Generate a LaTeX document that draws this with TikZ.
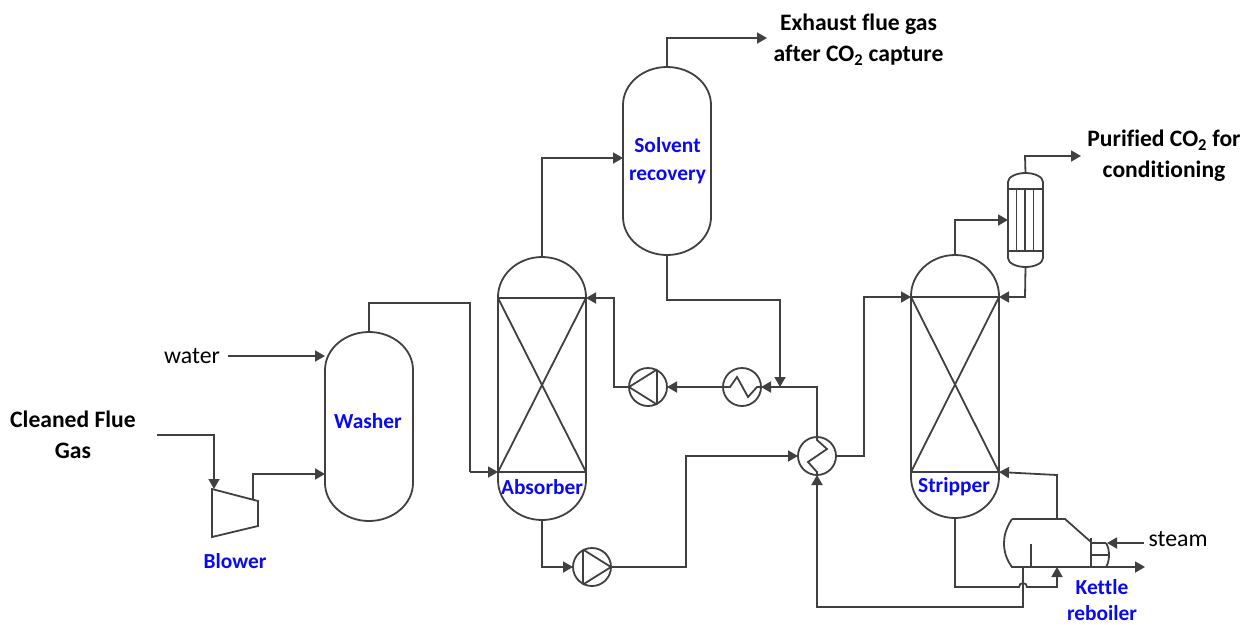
\documentclass[tikz,border=0pt]{standalone}
\usepackage{fontspec}
\setmainfont[Ligatures=CommonOff]{Carlito}
\usetikzlibrary{arrows.meta,calc}
\definecolor{ln}{HTML}{404040}
\definecolor{lbl}{HTML}{0A0AF0}
\tikzset{
  pipe/.style={draw=ln,line width=1.8pt,line join=miter},
  flow/.style={pipe,-{Triangle[length=10pt,width=11pt]}},
  equip/.style={draw=ln,line width=1.8pt},
  vesselbox/.style={inner sep=0pt,outer sep=0pt},
  roundunit/.style={equip,circle,minimum size=38pt,inner sep=0pt,outer sep=0pt},
  blue label/.style={text=lbl,font=\fontsize{21.4}{28}\selectfont\bfseries,align=center,inner sep=0pt},
  black label/.style={text=black,font=\fontsize{23.6}{31}\selectfont\bfseries,align=center,inner sep=0pt},
  plain label/.style={text=black,font=\fontsize{23.8}{26}\selectfont,inner sep=0pt}
}
\newcommand{\vesselshape}[5]{% name, cx, top, bottom, head
  \node[vesselbox,minimum width=88pt,minimum height={#4-#3}] (#1) at (#2,{(#3+#4)/2}) {};
  \draw[equip] (#1.north) .. controls +(24.3,0) and ($(#1.north east)+(0,{#5*0.45})$) .. ($(#1.north east)+(0,#5)$)
     -- ($(#1.south east)+(0,-#5)$) .. controls ($(#1.south east)+(0,{-#5*0.45})$) and ($(#1.south)+(24.3,0)$) .. (#1.south)
     .. controls ($(#1.south)+(-24.3,0)$) and ($(#1.south west)+(0,{-#5*0.45})$) .. ($(#1.south west)+(0,-#5)$)
     -- ($(#1.north west)+(0,#5)$) .. controls ($(#1.north west)+(0,{#5*0.45})$) and ($(#1.north)+(-24.3,0)$) .. (#1.north);
}
\begin{document}
\begin{tikzpicture}[x=1pt,y=-1pt]
\useasboundingbox (0,0) rectangle (1252,624);

% vessels
\vesselshape{washer}{369}{332}{521}{38}
\vesselshape{absorber}{542}{257}{520}{40}
\vesselshape{solvent}{667}{67}{255}{38}
\vesselshape{stripper}{955}{255}{518}{41}

% packed beds
\coordinate (abTL) at (498,298); \coordinate (abTR) at (586,298);
\coordinate (abBL) at (498,472); \coordinate (abBR) at (586,472);
\coordinate (stTL) at (911,297); \coordinate (stTR) at (999,297);
\coordinate (stBL) at (911,472); \coordinate (stBR) at (999,472);
\draw[equip] (abTL) -- (abTR) (abBL) -- (abBR) (abTL) -- (abBR) (abTR) -- (abBL);
\draw[equip] (stTL) -- (stTR) (stBL) -- (stBR) (stTL) -- (stBR) (stTR) -- (stBL);

% rotating units and exchangers
\node[roundunit] (pumpA) at (592,567) {};
\node[roundunit] (pumpB) at (648,387) {};
\node[roundunit] (coolerH) at (742,387) {};
\node[roundunit] (crossH) at (817,456) {};
\draw[equip] (583,549.5) -- (583,584.5) (583,549.5) -- (pumpA.east) -- (583,584.5);
\draw[equip] (657,369.5) -- (657,404.5) (657,369.5) -- (pumpB.west) -- (657,404.5);
\draw[equip] (coolerH.west) -- (730,387) -- (737,377) -- (748,397) -- (757,387) -- (coolerH.east);
\draw[equip] (crossH.north) -- (817,440) -- (827,449) -- (808,462) -- (817,472) -- (crossH.south);

% blower
\node[vesselbox,minimum width=46pt,minimum height=48pt] (blower) at (235,513) {};
\draw[equip] (blower.north west) -- (258,501) -- (258,526) -- (blower.south west) -- cycle;

% condenser
\node[vesselbox,minimum width=35pt,minimum height=94pt] (cond) at (1025.5,220) {};
\draw[equip] (cond.north) .. controls (1016,173) and (1008,177) .. (1008,182) -- (1008,258)
  .. controls (1008,263) and (1016,267) .. (cond.south)
  .. controls (1035,267) and (1043,263) .. (1043,258) -- (1043,182)
  .. controls (1043,177) and (1035,173) .. (cond.north);
\draw[equip] (1008,189) -- (1043,189) (1008,251) -- (1043,251);
\draw[equip] (1016.5,189) -- (1016.5,251) (1025,189) -- (1025,251) (1033.5,189) -- (1033.5,251);

% kettle reboiler
\node[vesselbox,minimum width=87pt,minimum height=48pt] (kettle) at (1048,543) {};
\draw[equip] (1012,519) .. controls (1006,528) and (1004,536) .. (1004,543)
  .. controls (1004,551) and (1006,559) .. (1012,567) -- (1107,567);
\draw[equip] (1012,519) -- (1065,519) -- (1091,542);
\draw[equip] (1091,538) -- (1091,567) (1091,543) -- (1106,543) (1091,555) -- (1108,555);
\draw[equip] (1106,543) .. controls (1110,549) and (1110,561) .. (1106,567);
\draw[equip] (1031,544) -- (1031,567);

% connectors
\coordinate (abOut) at (470,472);
\draw[flow] (absorber.north) -- (542,158) -- (623,158);
\draw[pipe] (washer.north) -- (369,303) -- (470,303) -- (abOut);
\draw[flow] (abOut) -- (abBL);
\draw[flow] (solvent.north) -- (667,38) -- (767,38);
\coordinate (jn) at (780,387);
\draw[flow] (solvent.south) -- (667,300) -- (780,300) -- (jn);
\draw[flow] (crossH.north) -- (817,387) -- (coolerH.east);
\draw[flow] (coolerH.west) -- (pumpB.east);
\draw[flow] (pumpB.west) -- (614,387) -- (614,298) -- (abTR);
\draw[flow] (absorber.south) -- (542,567) -- (pumpA.west);
\draw[flow] (pumpA.east) -- (686,567) -- (686,456) -- (crossH.west);
\draw[flow] (crossH.east) -- (864,456) -- (864,297) -- (stTL);
\draw[flow] (stripper.north) -- (955,220) -- (cond.west);
\coordinate (purified) at (1081,156);
\draw[flow] (cond.north) -- (1025,156) -- (purified);
\draw[flow] (cond.south) -- (1025,297) -- (stTR);
\draw[flow] (1057,519) -- (1057,475) -- (stBR);
\draw[flow] (stripper.south) -- (955,587) -- (1019,587) arc[start angle=180,end angle=0,radius=4pt] -- (1057,587) -- (1057,567);
\draw[flow] (1023,567) -- (1023,607) -- (817,607) -- (crossH.south);
\coordinate (flueIn) at (157,435);
\draw[flow] (flueIn) -- (214,435) -- (214,489);
\draw[flow] (253,500) -- (253,474) -- (325,474);
\coordinate (waterIn) at (228,356);
\draw[flow] (waterIn) -- (325,356);
\coordinate (steamIn) at (1144,543);
\coordinate (steamOut) at (1145,567);
\draw[flow] (steamIn) -- (1107,543);
\draw[flow] (1107,567) -- (steamOut);

% labels
\node[black label] (lFlue) at (73,435) {Cleaned Flue\\Gas};
\node[plain label] (lWater) at (192,356) {water};
\node[blue label] (lBlower) at (235,561) {Blower};
\node[blue label] (lWasher) at (368,421) {Washer};
\node[blue label] (lAbs) at (542,487) {Absorber};
\node[blue label] (lSolv) at (667.5,161) {Solvent\\recovery};
\node[blue label] (lStrip) at (954,487) {Stripper};
\node[blue label,font=\fontsize{21.4}{26}\selectfont\bfseries] (lKettle) at (1102,600) {Kettle\\reboiler};
\node[plain label] (lSteam) at (1178,539) {steam};
\node[black label] (lExh) at (858.5,40) {Exhaust flue gas\\after CO\textsubscript{2} capture};
\node[black label] (lPur) at (1164,156) {Purified CO\textsubscript{2} for\\conditioning};
\end{tikzpicture}
\end{document}
